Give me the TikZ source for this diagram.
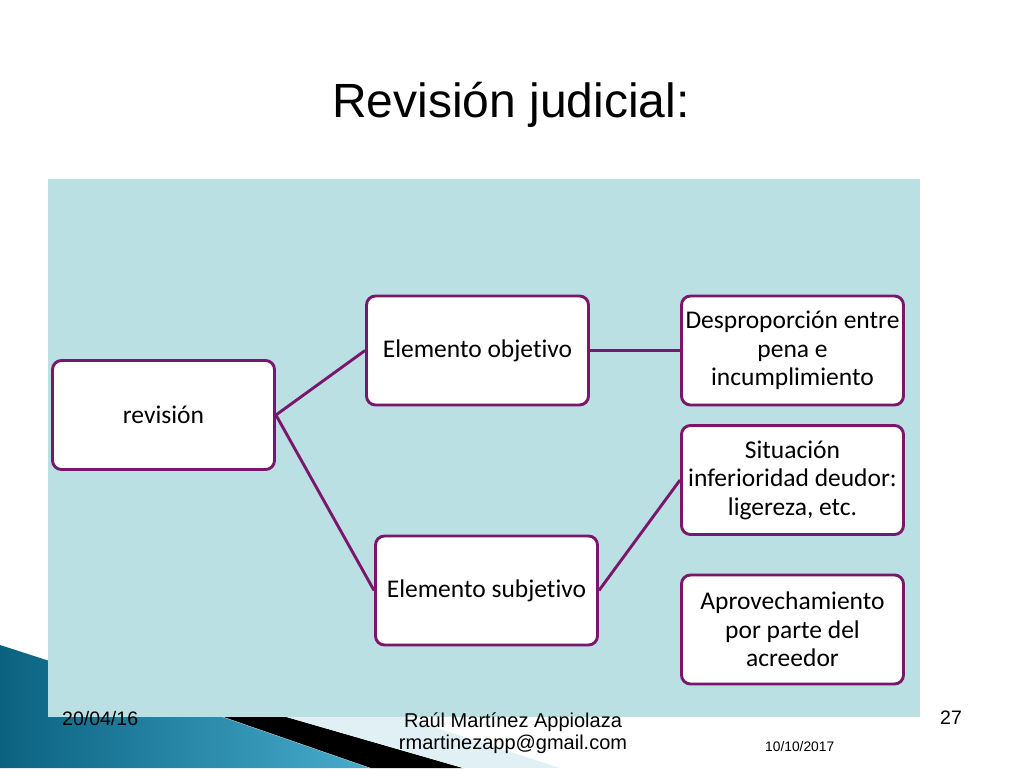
\documentclass[tikz,border=0pt]{standalone}
\usepackage{fontspec}
\setmainfont{Liberation Sans}
\newfontfamily\boxfont[RawFeature=-liga]{Carlito}
\definecolor{panelbg}{RGB}{187,224,227}
\definecolor{linkpurple}{RGB}{122,22,108}
\definecolor{tealdark}{RGB}{10,98,128}
\definecolor{teallight}{RGB}{72,172,206}
\definecolor{stripelight}{RGB}{225,240,245}
\begin{document}
\begin{tikzpicture}[x=1pt,y=-1pt,
    box/.style={draw=linkpurple, line width=2.9pt, rounded corners=9pt, fill=white,
        minimum width=222pt, minimum height=109pt, inner sep=0pt, align=center,
        font=\boxfont\fontsize{25.5}{28.5}\selectfont},
    link/.style={draw=linkpurple, line width=2.9pt}]
        \useasboundingbox (0,0) rectangle (1024,768);

        % Corner decoration
        \shade[left color=tealdark, right color=teallight] (0,645) -- (220,716) -- (370,768) -- (0,768) -- cycle;
        \fill[black] (220,716) -- (283,716) -- (463,768) -- (370,768) -- cycle;
        \fill[stripelight] (283,716) -- (400,716) -- (560,768) -- (463,768) -- cycle;
        \draw[teallight!40!white, thin] (220,716) -- (370,768);

        % Panel
        \fill[panelbg] (48,179) rectangle (920,717);

        % Title
        \node[anchor=base, font=\fontsize{48}{56}\selectfont] (title) at (511,117) {Revisión judicial:};

        % Boxes
        \node[box] (rev) at (163.5,415) {revisión};
        \node[box] (obj) at (477.5,350.5) {Elemento objetivo};
        \node[box] (desp) at (792.5,350.5) {Desproporción entre\\pena e\\incumplimiento};
        \node[box] (sit) at (792.5,480) {Situación\\inferioridad deudor:\\ligereza, etc.};
        \node[box] (subj) at (486.5,590.5) {Elemento subjetivo};
        \node[box] (aprov) at (792.5,629.5) {Aprovechamiento\\por parte del\\acreedor};

        % Links
        \draw[link] (rev.east) -- (obj.west);
        \draw[link] (rev.east) -- (subj.west);
        \draw[link] (obj.east) -- (desp.west);
        \draw[link] (subj.east) -- (sit.west);

        % Footer
        \node[anchor=base west, font=\fontsize{19.5}{22}\selectfont, inner sep=0pt] (date) at (62,725) {20/04/16};
        \node[anchor=base, align=center, font=\fontsize{20}{21.5}\selectfont, inner sep=0pt] (author) at (513,749) {Raúl Martínez Appiolaza\\rmartinezapp@gmail.com};
        \node[anchor=base west, font=\fontsize{19.5}{22}\selectfont, inner sep=0pt] (page) at (940,724) {27};
        \node[anchor=base west, font=\fontsize{13.8}{16}\selectfont, inner sep=0pt] (today) at (765,751) {10/10/2017};
\end{tikzpicture}
\end{document}
